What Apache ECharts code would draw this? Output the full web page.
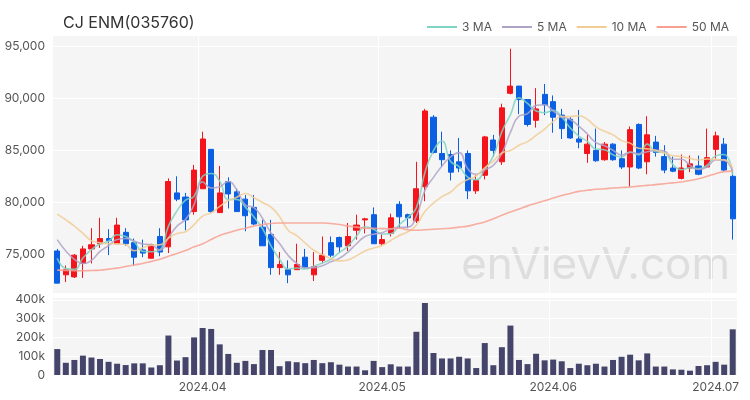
<!DOCTYPE html>
<html>
<head>
<meta charset="utf-8">
<script src="https://cdn.jsdelivr.net/npm/echarts@6/dist/echarts.min.js"></script>
<style>html,body{margin:0;padding:0;background:#fff;}#c{width:750px;height:400px;}</style>
</head>
<body>
<div id="c"></div>
<script>
const dates = [
 '2024-03-07','2024-03-08','2024-03-11','2024-03-12','2024-03-13','2024-03-14','2024-03-15','2024-03-18','2024-03-19','2024-03-20',
 '2024-03-21','2024-03-22','2024-03-25','2024-03-26','2024-03-27','2024-03-28','2024-03-29',
 '2024-04-01','2024-04-02','2024-04-03','2024-04-04','2024-04-05','2024-04-08','2024-04-09','2024-04-11','2024-04-12','2024-04-15',
 '2024-04-16','2024-04-17','2024-04-18','2024-04-19','2024-04-22','2024-04-23','2024-04-24','2024-04-25','2024-04-26','2024-04-29','2024-04-30',
 '2024-05-02','2024-05-03','2024-05-07','2024-05-08','2024-05-09','2024-05-10','2024-05-13','2024-05-14','2024-05-16','2024-05-17',
 '2024-05-20','2024-05-21','2024-05-22','2024-05-23','2024-05-24','2024-05-27','2024-05-28','2024-05-29','2024-05-30','2024-05-31',
 '2024-06-03','2024-06-04','2024-06-05','2024-06-07','2024-06-10','2024-06-11','2024-06-12','2024-06-13','2024-06-14','2024-06-17',
 '2024-06-18','2024-06-19','2024-06-20','2024-06-21','2024-06-24','2024-06-25','2024-06-26','2024-06-27','2024-06-28',
 '2024-07-01','2024-07-02','2024-07-03'
];
const openP = [75300,73000,72800,74100,75500,76000,76500,76000,77100,76100,
 75400,74600,76700,75700,80900,80500,79100,81300,85100,79000,
 82000,81000,80300,79500,77600,76900,73700,73500,73500,74700,
 73000,74400,76100,76600,75800,77300,78300,78800,76000,77000,
 79800,78800,78200,81500,88200,84700,84600,83900,84700,81100,
 82600,86000,83900,90500,91200,89900,87900,90400,89700,88400,
 88000,86100,84700,85000,84100,85600,84200,83400,87500,83900,
 85800,84400,83300,82300,83300,83500,83400,85100,85600,82500];
const closeP = [72200,73500,74900,75500,75900,76500,76300,77800,76000,74700,
 75100,75900,75200,82000,80300,78300,83100,86100,79100,80900,
 80800,79100,78700,77900,75800,73700,74000,73000,74000,73700,
 73800,74900,74900,75700,76700,77800,78400,76000,76400,78500,
 78600,78500,81300,88800,84800,84100,82900,83300,81100,82100,
 86300,85000,89100,91200,89900,87500,89000,89400,88200,87100,
 86200,85800,85600,84000,85600,84100,83400,87000,83300,86500,
 84800,83100,83000,83300,83700,82700,84300,86400,83100,78400];
const lowP = [72200,72300,72700,72700,74100,75600,74900,76000,75800,73900,
 74700,74600,74800,75100,80100,77300,78800,81300,79000,79000,
 79400,79100,77200,77800,75800,73000,73000,72200,73500,73600,
 72400,74100,74700,75100,75300,76400,77000,76000,75800,76700,
 77500,77500,78000,80100,84700,83400,82100,82900,80300,80800,
 82200,84400,83600,90400,88500,87300,87200,88400,86700,86100,
 86100,85200,83800,83900,84000,84000,83200,81500,83200,82700,
 84400,82800,82900,82200,82900,82600,83300,84200,83000,76400];
const highP = [75500,73900,75000,75800,77500,78500,77400,78500,77500,76500,
 76400,76000,77500,82300,82500,80900,83600,86800,85100,83500,
 82400,81300,80700,80700,78300,78300,75200,74400,76000,75500,
 75200,76700,76700,76700,78000,78800,78500,79500,76900,78900,
 80100,78900,83900,89000,88400,86800,85000,86200,85000,82600,
 86400,86500,89500,94800,91200,89900,91000,91400,90300,89000,
 88200,88900,86500,87100,85800,85700,85000,87300,87600,88300,
 86400,85500,84400,84600,84500,84500,87100,86800,86200,83100];
const volume = [138000,65000,80000,103000,93000,85000,70000,60000,53000,62000,
 62000,40000,52000,210000,77000,95000,200000,250000,245000,163000,
 112000,65000,75000,58000,133000,133000,47000,73000,68000,63000,
 80000,63000,68000,55000,45000,45000,25000,75000,42000,57000,
 45000,45000,230000,383000,117000,88000,88000,97000,88000,37000,
 170000,52000,148000,263000,80000,58000,113000,78000,82000,73000,
 37000,60000,52000,60000,45000,80000,97000,108000,78000,115000,
 45000,45000,30000,28000,23000,48000,52000,70000,55000,243000];
// moving-average values at the start of the window (earlier closes not shown)
const ma3Head = [74600, 73600];
const ma5Head = [76400, 75300, 74500, 74100];
const ma10Head = [78850, 78300, 77700, 77000, 76300, 76100, 76000, 76000, 75900];
const ma50 = [73460,73430,73400,73400,73420,73450,73550,73650,73800,73950,
 74100,74300,74500,74800,75050,75350,75700,76000,76400,76800,
 77050,77300,77500,77700,77850,77950,78000,78000,78000,78000,
 78000,78000,77950,77850,77700,77600,77500,77480,77460,77450,
 77500,77350,77300,77350,77400,77450,77500,77600,77700,77900,
 78100,78400,78750,79050,79350,79650,79900,80150,80400,80650,
 80850,81050,81150,81250,81300,81380,81420,81470,81550,81630,
 81700,81790,81870,81950,82100,82270,82500,82750,82950,83000];
const maNames = ['3 MA','5 MA','10 MA','50 MA'];
const maColors = ['#7fd3c3','#b0a3c8','#f1cd94','#f7a091'];

function movingAvg(n, head) {
  return closeP.map((c, i) => {
    if (i < n - 1) return head[i];
    let s = 0;
    for (let k = i - n + 1; k <= i; k++) s += closeP[k];
    return Math.round(s / n);
  });
}
const ma3 = movingAvg(3, ma3Head);
const ma5 = movingAvg(5, ma5Head);
const ma10 = movingAvg(10, ma10Head);
const maData = [ma3, ma5, ma10, ma50];

const candle = dates.map((d, i) => [openP[i], closeP[i], lowP[i], highP[i]]);

const chart = echarts.init(document.getElementById('c'), null, {renderer: 'canvas'});
const showMonth = (idx) => idx > 0 && dates[idx].slice(0, 7) !== dates[idx - 1].slice(0, 7);
const fontFam = 'Inter, "Noto Sans", sans-serif';

const option = {
  animation: false,
  backgroundColor: '#ffffff',
  title: {
    text: 'CJ ENM(035760)', left: 58, top: 10,
    textStyle: {fontSize: 16, fontWeight: 'normal', color: '#333', fontFamily: fontFam}
  },
  legend: {
    data: maNames.map(n => ({name: n, icon: 'rect'})), right: 16, top: 16, itemWidth: 30, itemHeight: 2, itemGap: 10,
    textStyle: {fontSize: 12, color: '#555', fontFamily: fontFam}
  },
  graphic: [{
    type: 'text', right: 20, top: 244, z: 0, silent: true,
    style: {text: 'enVievV.com', fontSize: 44, fontFamily: fontFam, fill: 'rgba(200,200,200,0.5)'}
  }],
  grid: [
    {left: 53, right: 13, top: 35, height: 258, backgroundColor: '#f5f5f5', show: true, borderWidth: 0},
    {left: 53, right: 13, top: 297, height: 78, backgroundColor: '#f5f5f5', show: true, borderWidth: 0}
  ],
  xAxis: [
    {type: 'category', data: dates, gridIndex: 0, boundaryGap: true,
     axisLine: {show: false}, axisTick: {show: false}, axisLabel: {show: false, interval: showMonth},
     splitLine: {show: true, interval: showMonth, lineStyle: {color: '#ffffff', width: 1}}},
    {type: 'category', data: dates, gridIndex: 1, boundaryGap: true,
     axisLine: {show: false}, axisTick: {show: false},
     axisLabel: {interval: showMonth, formatter: v => v.slice(0, 7).replace('-', '.'), color: '#555', fontSize: 12, fontFamily: fontFam, margin: 6},
     splitLine: {show: true, interval: showMonth, lineStyle: {color: '#ffffff', width: 1}}}
  ],
  yAxis: [
    {type: 'value', gridIndex: 0, min: 71250, max: 96125, splitNumber: 5, scale: true,
     axisLine: {show: false}, axisTick: {show: false},
     axisLabel: {showMinLabel: false, showMaxLabel: false, color: '#555', fontSize: 12, fontFamily: fontFam,
       formatter: v => v.toLocaleString('en-US')},
     splitLine: {lineStyle: {color: '#ffffff', width: 1}}},
    {type: 'value', gridIndex: 1, min: 0, max: 415000, splitNumber: 4,
     axisLine: {show: false}, axisTick: {show: false},
     axisLabel: {showMaxLabel: false, color: '#555', fontSize: 12, fontFamily: fontFam,
       formatter: v => v === 0 ? '0' : (v / 1000) + 'k'},
     splitLine: {lineStyle: {color: '#ffffff', width: 1}}}
  ],
  series: [
    {type: 'candlestick', name: 'price', xAxisIndex: 0, yAxisIndex: 0, data: candle, barWidth: '66%', z: 3,
     itemStyle: {color: '#f5141b', color0: '#0b5fe3', borderColor: '#f5141b', borderColor0: '#0b5fe3', borderWidth: 1}},
    ...maNames.map((n, k) => ({
      type: 'line', name: n, xAxisIndex: 0, yAxisIndex: 0, data: maData[k], smooth: true,
      symbol: 'none', z: 4, lineStyle: {color: maColors[k], width: 1.6, opacity: 0.85}, itemStyle: {color: maColors[k]}
    })),
    {type: 'bar', name: 'volume', xAxisIndex: 1, yAxisIndex: 1, data: volume, barWidth: '70%',
     itemStyle: {color: '#45456b'}}
  ]
};
chart.setOption(option);
</script>
</body>
</html>
